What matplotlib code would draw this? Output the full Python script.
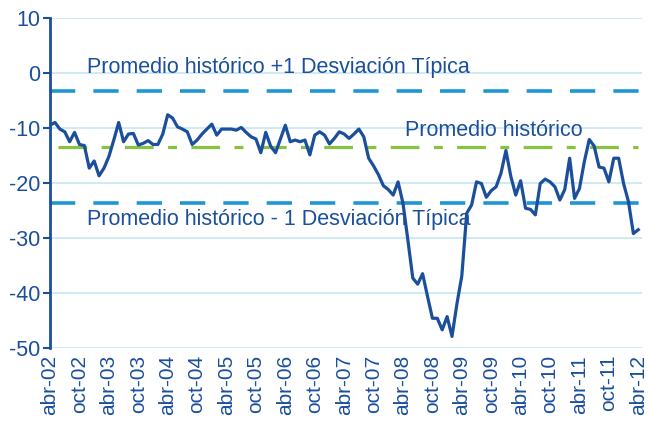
import numpy as np
import matplotlib
matplotlib.use("Agg")
import matplotlib.pyplot as plt

plt.rcParams['font.family'] = ['Liberation Sans', 'DejaVu Sans']
plt.rcParams['axes.unicode_minus'] = False

# monthly values, abr-02 .. abr-12
serie = [
    -9.5, -9.0, -10.2, -10.7, -12.5, -10.8, -13.0, -13.2, -17.3, -16.0,
    -18.7, -17.3, -15.2, -12.2, -9.0, -12.5, -11.1, -11.0, -13.1, -12.8,
    -12.3, -13.0, -13.0, -11.1, -7.6, -8.2, -9.8, -10.2, -10.7, -13.0,
    -12.2, -11.1, -10.2, -9.3, -11.3, -10.2, -10.2, -10.2, -10.4,
    -9.9, -10.8, -11.6, -12.0, -14.5, -10.8, -13.3, -14.5, -12.0, -9.5,
    -12.5, -12.2, -12.5, -12.2, -14.9, -11.3, -10.7, -11.3, -12.9, -11.9,
    -10.7, -11.1, -11.9, -11.1, -10.2, -11.6, -15.5, -16.9, -18.5, -20.5,
    -21.2, -22.2, -19.8, -23.7, -30.4, -37.3, -38.4, -36.5, -40.6, -44.6,
    -44.6, -46.7, -44.3, -47.9, -42.0, -36.9, -25.5, -24.0, -19.8, -20.1,
    -22.6, -21.4, -20.7, -18.2, -14.1, -18.8, -22.2, -19.6, -24.6, -24.8,
    -25.8, -20.1, -19.3, -19.8, -20.7, -23.1, -21.2, -15.5, -22.8, -21.0,
    -16.1, -12.1, -13.3, -17.1, -17.3, -19.8, -15.5, -15.5, -20.1, -23.4,
    -29.2, -28.5,
]
etiquetas = ['abr-02', 'oct-02', 'abr-03', 'oct-03', 'abr-04', 'oct-04',
             'abr-05', 'oct-05', 'abr-06', 'oct-06', 'abr-07', 'oct-07',
             'abr-08', 'oct-08', 'abr-09', 'oct-09', 'abr-10', 'oct-10',
             'abr-11', 'oct-11', 'abr-12']
promedio = -13.4
desv = 10.2

azul = '#1B4F9C'
azul_claro = '#1E96D4'
verde = '#86C440'
rejilla = '#C5E6F3'

fig = plt.figure(figsize=(6.5, 4.28), dpi=100)
ax = fig.add_axes([0.077, 0.187, 0.911, 0.771])

x = np.arange(len(serie))
ax.axhline(promedio + desv, color=azul_claro, lw=2.6, dashes=(7, 5), zorder=2)
ax.axhline(promedio - desv, color=azul_claro, lw=2.6, dashes=(7, 5), zorder=2)
ax.plot([1.6, len(serie) - 1], [promedio, promedio], color=verde, lw=2.3,
        dashes=(9, 4.5, 2.8, 4.5), zorder=2)
ax.plot(x, serie, color=azul, lw=2.3, zorder=3)

ax.set_xlim(0, 120.8)
ax.set_ylim(-50, 10)
ax.set_yticks(np.arange(-50, 11, 10))
ax.set_xticks(np.arange(0, 121, 6))
ax.set_xticklabels(etiquetas, rotation=90)
ax.tick_params(axis='y', colors=azul, labelsize=15.5, length=5, width=1.5, pad=2)
ax.tick_params(axis='x', colors=azul, labelsize=15, length=0, pad=5)
ax.grid(axis='y', color=rejilla, lw=1.2, zorder=0)
for s in ['top', 'right', 'bottom']:
    ax.spines[s].set_visible(False)
ax.spines['left'].set_color(azul)
ax.spines['left'].set_linewidth(2)

ax.text(7.6, 1.0, 'Promedio histórico +1 Desviación Típica', color=azul,
        fontsize=15.5, va='center')
ax.text(72.5, -10.4, 'Promedio histórico', color=azul, fontsize=15.5, va='center')
ax.text(7.6, -26.6, 'Promedio histórico - 1 Desviación Típica', color=azul,
        fontsize=15.5, va='center')

fig.savefig('out.png', dpi=100)
